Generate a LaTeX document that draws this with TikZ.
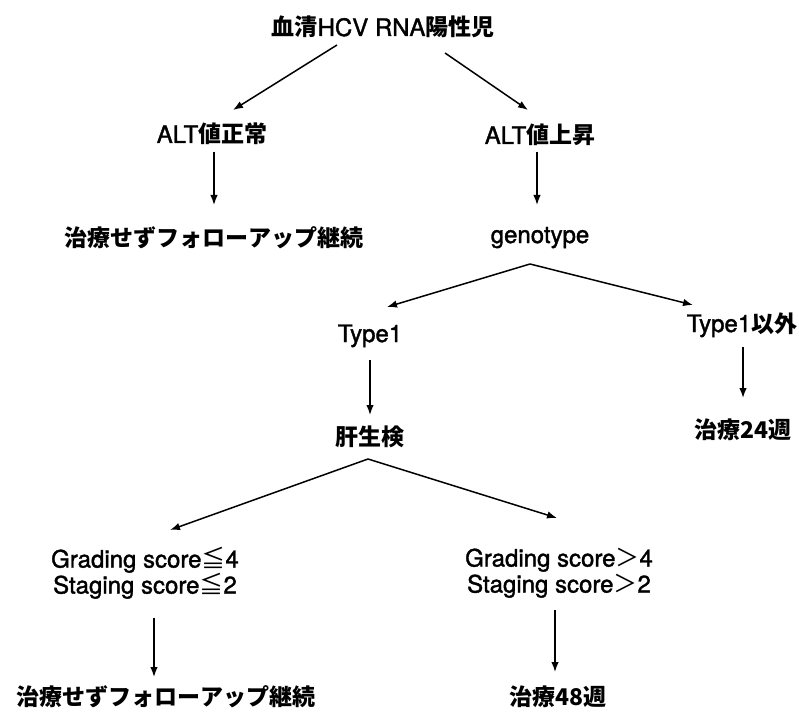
\documentclass[tikz,border=0pt]{standalone}
\usepackage{fontspec}
\setmainfont{TeX Gyre Heros}[FakeBold=1.5]
\newfontfamily\cjk{Noto Sans CJK JP}
\usetikzlibrary{arrows.meta,calc}
\newcommand{\jp}[1]{{\fontsize{23}{26}\selectfont\cjk\bfseries #1}}
\tikzset{
  lbl/.style={inner sep=0pt, font=\fontsize{24}{26}\selectfont, anchor=base},
  lbl2/.style={inner sep=0pt, font=\fontsize{24}{26}\selectfont, align=center, anchor=center},
  arr/.style={line width=1.5pt, -{Latex[length=10pt,width=7.5pt]}}
}
\begin{document}
\begin{tikzpicture}[x=1pt,y=-1pt]
\useasboundingbox[fill=white] (0,0) rectangle (799,711);
\node[lbl] (top) at (383,36) {\jp{血清}HCV RNA\jp{陽性児}};
\node[lbl] (altn) at (212,143) {ALT\jp{値正常}};
\node[lbl] (altu) at (540,144) {ALT\jp{値上昇}};
\node[lbl] (nofu1) at (214,246) {\jp{治療せずフォローアップ継続}};
\node[lbl] (geno) at (540,243) {genotype};
\node[lbl] (type1) at (370,342) {Type1};
\node[lbl] (type1x) at (742,332) {Type1\jp{以外}};
\node[lbl] (kan) at (370,445) {\jp{肝生検}};
\node[lbl] (chi24) at (743,438) {\jp{治療24週}};
\node[lbl2] (gradeL) at (145,573) {Grading score{\cjk ≦}4\\Staging score{\cjk ≦}2};
\node[lbl2] (gradeR) at (559,573) {Grading score{\cjk ＞}4\\Staging score{\cjk ＞}2};
\node[lbl] (nofu2) at (166,705) {\jp{治療せずフォローアップ継続}};
\node[lbl] (chi48) at (558,705) {\jp{治療48週}};

\draw[arr] ($(top.base)+(-46,9)$) -- ($(altn.base)+(21,-33)$);
\draw[arr] ($(top.base)+(62,17)$) -- ($(altu.base)+(-12,-34)$);
\draw[arr] ($(altn.base)+(2,9)$) -- ($(nofu1.base)+(0,-41)$);
\draw[arr] ($(altu.base)+(-3,8)$) -- ($(geno.base)+(-3,-38)$);
\draw[arr] ($(geno.base)+(-10,21)$) -- ($(type1.base)+(17,-35)$);
\draw[arr] ($(geno.base)+(-10,21)$) -- ($(type1x.base)+(-49,-27)$);
\draw[arr] ($(type1.base)+(0,18)$) -- ($(kan.base)+(0,-30)$);
\draw[arr] ($(type1x.base)+(1,15)$) -- ($(chi24.base)+(0,-40)$);
\draw[arr] ($(kan.base)+(-2,14)$) -- ($(gradeL.center)+(25,-43)$);
\draw[arr] ($(kan.base)+(-2,14)$) -- ($(gradeR.center)+(-2,-55)$);
\draw[arr] ($(gradeL.center)+(9,45)$) -- ($(nofu2.base)+(-12,-28)$);
\draw[arr] ($(gradeR.center)+(-4,37)$) -- ($(chi48.base)+(-3,-33)$);
\end{tikzpicture}
\end{document}
